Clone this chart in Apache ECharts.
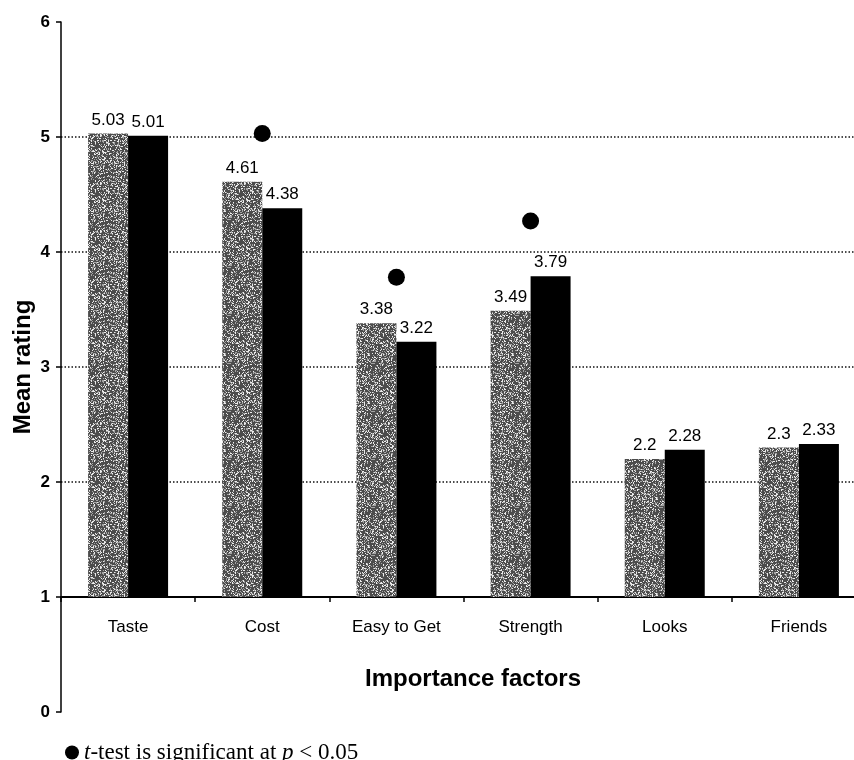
<!DOCTYPE html>
<html>
<head>
<meta charset="utf-8">
<title>Mean rating by importance factor</title>
<script src="https://cdn.jsdelivr.net/npm/echarts@6/dist/echarts.min.js"></script>
<style>
  html, body { margin: 0; padding: 0; background: #fff; }
  #chart { width: 854px; height: 760px; }
</style>
</head>
<body>
<div id="chart"></div>
<script>
// Importance factors and their mean ratings for the two groups
const categories = ['Taste', 'Cost', 'Easy to Get', 'Strength', 'Looks', 'Friends'];
const groupA = [5.03, 4.61, 3.38, 3.49, 2.2, 2.3];   // speckled grey bars
const groupB = [5.01, 4.38, 3.22, 3.79, 2.28, 2.33]; // solid black bars
// Significance markers (t-test p < 0.05), category and marker height
const sigCategories = ['Cost', 'Easy to Get', 'Strength'];
const sigHeights = [5.03, 3.78, 4.27];
const yTicks = [0, 1, 2, 3, 4, 5, 6];

// The category axis sits at rating 1, bars grow up from there
const baseline = 1;

const FONT = '"Liberation Sans", Arial, Helvetica, sans-serif';
const SERIF = '"Liberation Serif", "Times New Roman", Times, serif';

// Deterministic speckle texture for the grey bars
function speckleTexture() {
  const size = 48;
  const c = document.createElement('canvas');
  c.width = c.height = size;
  const g = c.getContext('2d');
  g.fillStyle = '#4c4c4c';
  g.fillRect(0, 0, size, size);
  let s = 12345;
  for (let y = 0; y < size; y++) {
    for (let x = 0; x < size; x++) {
      s = (Math.imul(s, 1103515245) + 12345) >>> 0;
      const r = s / 4294967296;
      if (r < 0.16) {
        g.fillStyle = '#ececec';
        g.fillRect(x, y, 1, 1);
      } else if (r < 0.36) {
        g.fillStyle = '#a4a4a4';
        g.fillRect(x, y, 1, 1);
      }
    }
  }
  return c;
}

const chart = echarts.init(document.getElementById('chart'), null, { renderer: 'canvas' });

const gridTop = 22, gridBottom = 48, chartH = 760;
const plotH = chartH - gridTop - gridBottom;
const yMin = yTicks[0], yMax = yTicks[yTicks.length - 1];
const pxPerUnit = plotH / (yMax - yMin);

const baseData = categories.map(() => baseline);
const labelStyle = (values) => ({
  show: true,
  position: 'top',
  distance: 5,
  color: '#000',
  fontFamily: FONT,
  fontSize: 17,
  formatter: (p) => String(values[p.dataIndex])
});

const option = {
  backgroundColor: '#fff',
  animation: false,
  grid: {
    left: 61,
    right: -12,
    top: gridTop,
    bottom: gridBottom,
    containLabel: false,
    outerBoundsMode: 'none'
  },
  legend: {
    data: ['sig'],
    left: 60,
    top: 736,
    icon: 'circle',
    itemWidth: 14,
    itemHeight: 14,
    selectedMode: false,
    formatter: () => '{i|t}-test is significant at {i|p} < 0.05',
    textStyle: {
      fontFamily: SERIF,
      fontSize: 23,
      color: '#000',
      rich: {
        i: { fontFamily: SERIF, fontSize: 23, fontStyle: 'italic', color: '#000' }
      }
    }
  },
  xAxis: {
    type: 'category',
    data: categories,
    offset: -(baseline - yMin) * pxPerUnit,
    axisLine: { show: true, onZero: false, lineStyle: { color: '#000', width: 2 } },
    axisTick: { show: true, length: 5, alignWithLabel: false, lineStyle: { color: '#000', width: 1.5 } },
    axisLabel: { color: '#000', fontFamily: FONT, fontSize: 17, margin: 22 },
    splitLine: { show: false }
  },
  yAxis: {
    type: 'value',
    min: yMin,
    max: yMax,
    interval: 1,
    axisLine: { show: true, lineStyle: { color: '#000', width: 1.5 } },
    axisTick: { show: true, length: 5, lineStyle: { color: '#000', width: 1.5 } },
    axisLabel: {
      color: '#000', fontFamily: FONT, fontSize: 17, fontWeight: 'bold', margin: 11,
      formatter: (v) => String(v)
    },
    splitLine: {
      show: true,
      lineStyle: {
        // dotted gridlines only at 2..5
        color: yTicks.map((t) => (t > baseline && t < yMax ? '#111' : 'rgba(0,0,0,0)')),
        width: 1.5,
        type: [1.5, 2]
      }
    }
  },
  graphic: [
    {
      type: 'text',
      rotation: Math.PI / 2,
      x: 23, y: 367,
      style: {
        text: 'Mean rating',
        font: 'bold 24px ' + FONT,
        fill: '#000',
        align: 'center',
        verticalAlign: 'middle'
      }
    },
    {
      type: 'text',
      x: 473, y: 679,
      style: {
        text: 'Importance factors',
        font: 'bold 24px ' + FONT,
        fill: '#000',
        align: 'center',
        verticalAlign: 'middle'
      }
    }
  ],
  series: [
    {
      name: 'baseA', type: 'bar', stack: 'a', data: baseData, barWidth: 40, barGap: '0%',
      silent: true, itemStyle: { color: 'rgba(0,0,0,0)' }
    },
    {
      name: 'Group A', type: 'bar', stack: 'a', barWidth: 40, barGap: '0%',
      data: groupA.map((v) => v - baseline),
      itemStyle: { color: { image: speckleTexture(), repeat: 'repeat' } },
      label: labelStyle(groupA)
    },
    {
      name: 'baseB', type: 'bar', stack: 'b', data: baseData, barWidth: 40, barGap: '0%',
      silent: true, itemStyle: { color: 'rgba(0,0,0,0)' }
    },
    {
      name: 'Group B', type: 'bar', stack: 'b', barWidth: 40, barGap: '0%',
      data: groupB.map((v) => v - baseline),
      itemStyle: { color: '#000' },
      label: labelStyle(groupB)
    },
    {
      name: 'sig', type: 'scatter', z: 5,
      symbol: 'circle', symbolSize: 17,
      itemStyle: { color: '#000', opacity: 1 },
      data: sigCategories.map((c, i) => [c, sigHeights[i]])
    }
  ]
};

chart.setOption(option);
</script>
</body>
</html>
